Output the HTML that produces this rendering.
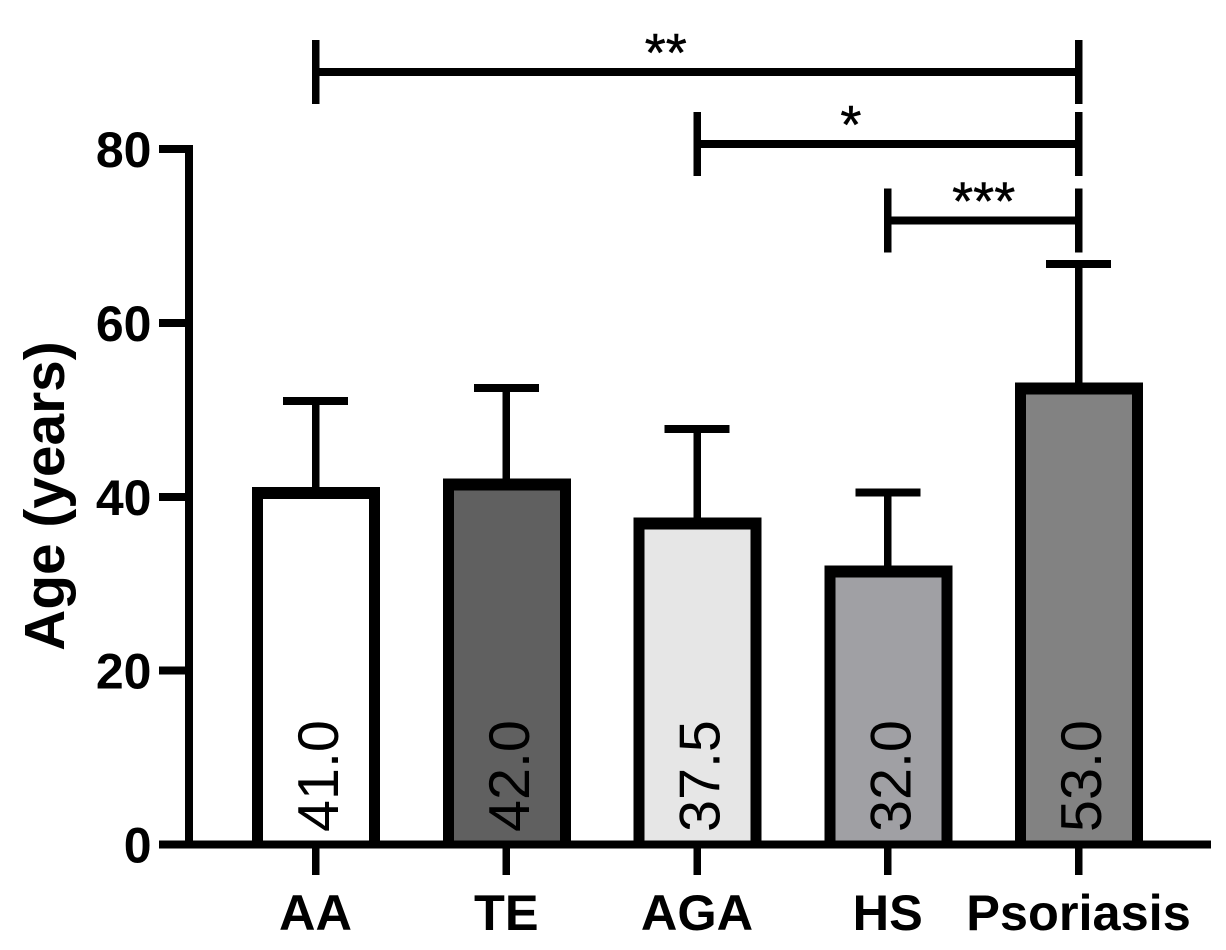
<!DOCTYPE html>
<html lang="en">
<head>
<meta charset="utf-8">
<title>Age by condition</title>
<style>
html,body{margin:0;padding:0;background:#fff;}
svg{display:block;}
text{font-family:"Liberation Sans",Arial,sans-serif;fill:#000;}
</style>
</head>
<body>
<svg id="chart" xmlns="http://www.w3.org/2000/svg" width="1226" height="950" viewBox="0 0 1226 950"></svg>
<script>
const categories = ["AA", "TE", "AGA", "HS", "Psoriasis"];
const medians = [41.0, 42.0, 37.5, 32.0, 53.0];
const upperErrors = [51.0, 52.5, 47.8, 40.5, 66.8];
const yTicks = [0, 20, 40, 60, 80];
const barFills = ["#ffffff", "#606060", "#e6e6e6", "#a0a0a4", "#828282"];
const comparisonFrom = [0, 2, 3];
const comparisonTo = [4, 4, 4];
const comparisonLevels = [88.85, 80.55, 71.8];
const comparisonLabels = ["**", "*", "***"];

const svg = document.getElementById("chart");
const NS = "http://www.w3.org/2000/svg";
const yScale = function (v) { return 844.5 - v * 8.69375; };
const xScale = function (i) { return 315.5 + i * 190.75; };

function line(x1, y1, x2, y2, w) {
  const el = document.createElementNS(NS, "line");
  el.setAttribute("x1", x1);
  el.setAttribute("y1", y1);
  el.setAttribute("x2", x2);
  el.setAttribute("y2", y2);
  el.setAttribute("stroke", "#000");
  el.setAttribute("stroke-width", w);
  el.setAttribute("shape-rendering", "crispEdges");
  svg.appendChild(el);
  return el;
}
function box(x, y, w, h, fill) {
  const el = document.createElementNS(NS, "rect");
  el.setAttribute("x", x);
  el.setAttribute("y", y);
  el.setAttribute("width", w);
  el.setAttribute("height", h);
  el.setAttribute("fill", fill);
  el.setAttribute("shape-rendering", "crispEdges");
  svg.appendChild(el);
  return el;
}
function label(str, x, y, size, weight, anchor, rotate) {
  const el = document.createElementNS(NS, "text");
  el.setAttribute("x", x);
  el.setAttribute("y", y);
  el.setAttribute("font-size", size);
  el.setAttribute("font-weight", weight);
  el.setAttribute("text-anchor", anchor);
  if (rotate) el.setAttribute("transform", "rotate(-90 " + x + " " + y + ")");
  el.textContent = str;
  svg.appendChild(el);
  return el;
}

// error bars
categories.forEach(function (c, i) {
  const cx = xScale(i);
  const stem = line(cx, yScale(upperErrors[i]), cx, yScale(medians[i]) + 4, 7.5);
  
  
  const cap = line(cx - 32.5, yScale(upperErrors[i]), cx + 32.5, yScale(upperErrors[i]), 8);
  
  
});

// bars: black frame with an inner fill that runs down to the axis
categories.forEach(function (c, i) {
  const cx = xScale(i) + 0.5;
  const top = yScale(medians[i]) - 1;
  const base = yScale(0);
  const frame = box(cx - 64, top, 128, base + 3.5 - top, "#000");
  
  
  const fill = box(cx - 53, top + 12, 106, base - 3.5 - top - 12, barFills[i]);
  
  
});

// y axis
const yAxis = line(189, yScale(80) - 4, 189, yScale(0) + 4, 8);


yTicks.forEach(function (t) {
  const tick = line(159, yScale(t), 189, yScale(t), 8);
  
  
  const tl = label(String(t), 151.5, yScale(t) + 18, 50, "bold", "end", false);
  
  
});

// x axis
const xAxis = line(159, yScale(0), 1211, yScale(0), 8);


categories.forEach(function (c, i) {
  const cx = xScale(i);
  const tick = line(cx, yScale(0), cx, 875, 7.5);
  
  
  const tl = label(c, cx, 930, 50.5, "bold", "middle", false);
  
  
});

// value labels
categories.forEach(function (c, i) {
  const vl = label(medians[i].toFixed(1), xScale(i) + 22.5, 832, 57.5, "normal", "start", true);
  
  
});

// significance brackets
comparisonLabels.forEach(function (s, i) {
  const x1 = xScale(comparisonFrom[i]);
  const x2 = xScale(comparisonTo[i]);
  const y = yScale(comparisonLevels[i]);
  const h = line(x1, y, x2, y, 8);
  
  
  const l = line(x1, y - 32, x1, y + 32, 7.5);
  
  
  const r = line(x2, y - 32, x2, y + 32, 7.5);
  
  
  const t = label(s, x1 + (x2 - x1) * [0.459, 0.4035, 0.503][i], y - 1, 54, "normal", "middle", false);
  t.setAttribute("stroke", "#000");
  t.setAttribute("stroke-width", 0.5);
  
  
});

// y axis title
const yTitle = label("Age (years)", 64, 496, 56.8, "bold", "middle", true);


</script>
</body>
</html>
